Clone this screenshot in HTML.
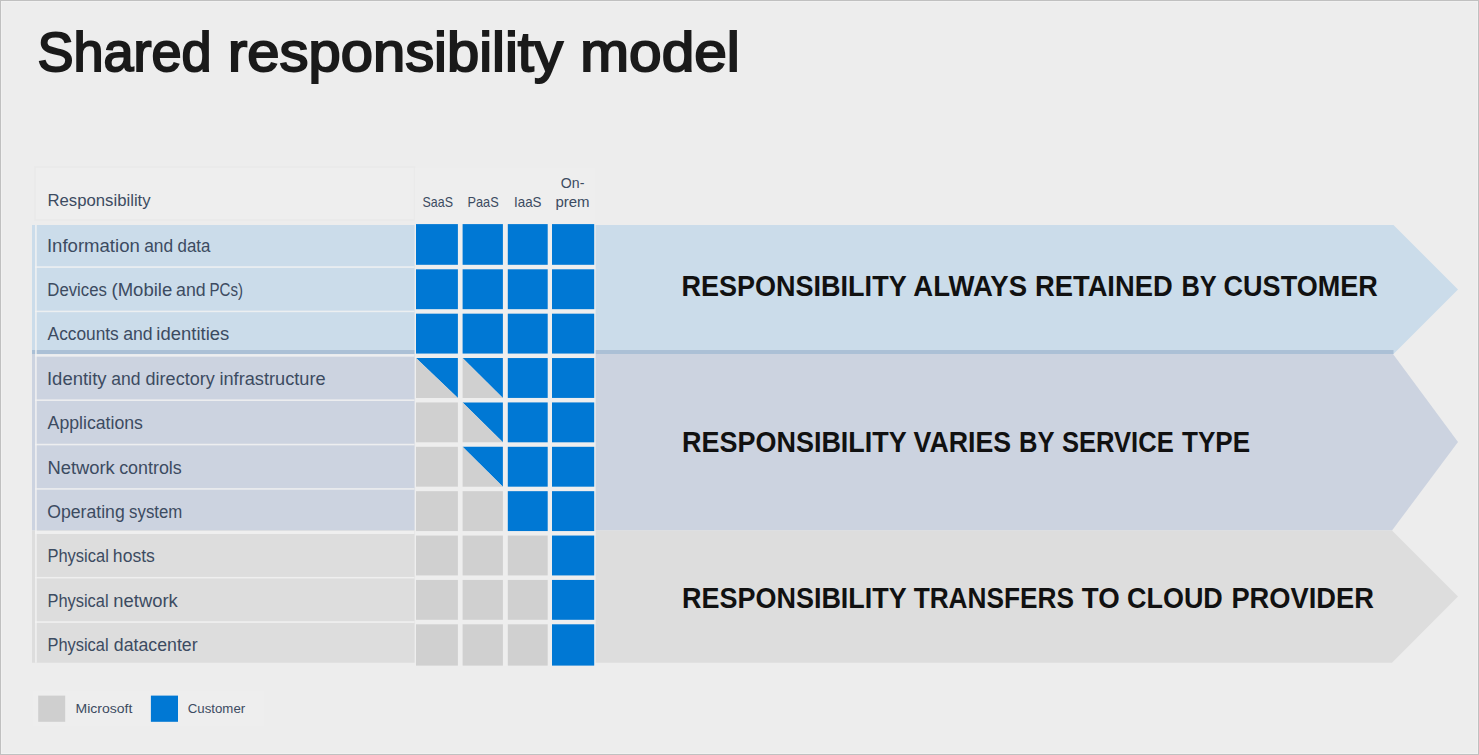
<!DOCTYPE html>
<html><head><meta charset="utf-8"><title>Shared responsibility model</title>
<style>html,body{margin:0;padding:0;background:#ededed;}svg{display:block;}text{font-family:"Liberation Sans",sans-serif;}</style>
</head><body>
<svg width="1479" height="755" viewBox="0 0 1479 755">
<rect x="0" y="0" width="1479" height="755" fill="#ededed"/>
<rect x="1.5" y="1.5" width="1476" height="752" fill="none" stroke="#f1f1f1" stroke-width="1"/>
<rect x="0.5" y="0.5" width="1478" height="754" fill="none" stroke="#c0c0c0" stroke-width="1"/>
<rect x="35" y="167" width="379.5" height="53" fill="#eeeeee" stroke="#e9e9e9" stroke-width="1.5"/>
<rect x="414.8" y="167.8" width="180" height="498" fill="#eeeeee"/>
<polygon points="32,225 1393.5,225 1458,289.5 1393.5,354 32,354" fill="#cbdcea"/>
<polygon points="32,354 1393,354 1458,442 1392,530.5 32,530.5" fill="#ccd3e0"/>
<polygon points="32,530.5 1392,530.5 1458,596.5 1392,662.7 32,662.7" fill="#dddddd"/>
<rect x="32" y="350" width="1361.5" height="4" fill="#abc0d6"/>
<rect x="35" y="225" width="1.8" height="437.7" fill="#f2f2f2" opacity="0.8"/>
<rect x="35" y="266.25" width="379.5" height="1.6" fill="#f2f2f2" opacity="0.85"/>
<rect x="35" y="310.62" width="379.5" height="1.6" fill="#f2f2f2" opacity="0.85"/>
<rect x="35" y="354.1" width="379.5" height="2.6" fill="#f2f2f2" opacity="0.85"/>
<rect x="35" y="399.38" width="379.5" height="1.6" fill="#f2f2f2" opacity="0.85"/>
<rect x="35" y="443.75" width="379.5" height="1.6" fill="#f2f2f2" opacity="0.85"/>
<rect x="35" y="488.12" width="379.5" height="1.6" fill="#f2f2f2" opacity="0.85"/>
<rect x="35" y="531" width="379.5" height="3" fill="#f2f2f2" opacity="0.85"/>
<rect x="35" y="576.88" width="379.5" height="1.6" fill="#f2f2f2" opacity="0.85"/>
<rect x="35" y="621.25" width="379.5" height="1.6" fill="#f2f2f2" opacity="0.85"/>
<rect x="414.6" y="224" width="181" height="442" fill="#eeeeee"/>
<rect x="416.0" y="224.10" width="41.90" height="40.70" fill="#0078d4"/>
<rect x="462.6" y="224.10" width="40.30" height="40.70" fill="#0078d4"/>
<rect x="507.8" y="224.10" width="39.90" height="40.70" fill="#0078d4"/>
<rect x="552.0" y="224.10" width="42.20" height="40.70" fill="#0078d4"/>
<rect x="416.0" y="269.30" width="41.90" height="39.88" fill="#0078d4"/>
<rect x="462.6" y="269.30" width="40.30" height="39.88" fill="#0078d4"/>
<rect x="507.8" y="269.30" width="39.90" height="39.88" fill="#0078d4"/>
<rect x="552.0" y="269.30" width="42.20" height="39.88" fill="#0078d4"/>
<rect x="416.0" y="313.68" width="41.90" height="39.88" fill="#0078d4"/>
<rect x="462.6" y="313.68" width="40.30" height="39.88" fill="#0078d4"/>
<rect x="507.8" y="313.68" width="39.90" height="39.88" fill="#0078d4"/>
<rect x="552.0" y="313.68" width="42.20" height="39.88" fill="#0078d4"/>
<polygon points="416.0,358.05 457.9,358.05 457.9,397.93" fill="#0078d4"/>
<polygon points="416.0,358.05 457.9,397.93 416.0,397.93" fill="#d0d0d0"/>
<polygon points="462.6,358.05 502.9,358.05 502.9,397.93" fill="#0078d4"/>
<polygon points="462.6,358.05 502.9,397.93 462.6,397.93" fill="#d0d0d0"/>
<rect x="507.8" y="358.05" width="39.90" height="39.88" fill="#0078d4"/>
<rect x="552.0" y="358.05" width="42.20" height="39.88" fill="#0078d4"/>
<rect x="416.0" y="402.43" width="41.90" height="39.88" fill="#d0d0d0"/>
<polygon points="462.6,402.43 502.9,402.43 502.9,442.30" fill="#0078d4"/>
<polygon points="462.6,402.43 502.9,442.30 462.6,442.30" fill="#d0d0d0"/>
<rect x="507.8" y="402.43" width="39.90" height="39.88" fill="#0078d4"/>
<rect x="552.0" y="402.43" width="42.20" height="39.88" fill="#0078d4"/>
<rect x="416.0" y="446.80" width="41.90" height="39.88" fill="#d0d0d0"/>
<polygon points="462.6,446.80 502.9,446.80 502.9,486.68" fill="#0078d4"/>
<polygon points="462.6,446.80 502.9,486.68 462.6,486.68" fill="#d0d0d0"/>
<rect x="507.8" y="446.80" width="39.90" height="39.88" fill="#0078d4"/>
<rect x="552.0" y="446.80" width="42.20" height="39.88" fill="#0078d4"/>
<rect x="416.0" y="491.18" width="41.90" height="39.87" fill="#d0d0d0"/>
<rect x="462.6" y="491.18" width="40.30" height="39.87" fill="#d0d0d0"/>
<rect x="507.8" y="491.18" width="39.90" height="39.87" fill="#0078d4"/>
<rect x="552.0" y="491.18" width="42.20" height="39.87" fill="#0078d4"/>
<rect x="416.0" y="535.55" width="41.90" height="39.88" fill="#d0d0d0"/>
<rect x="462.6" y="535.55" width="40.30" height="39.88" fill="#d0d0d0"/>
<rect x="507.8" y="535.55" width="39.90" height="39.88" fill="#d0d0d0"/>
<rect x="552.0" y="535.55" width="42.20" height="39.88" fill="#0078d4"/>
<rect x="416.0" y="579.92" width="41.90" height="39.88" fill="#d0d0d0"/>
<rect x="462.6" y="579.92" width="40.30" height="39.88" fill="#d0d0d0"/>
<rect x="507.8" y="579.92" width="39.90" height="39.88" fill="#d0d0d0"/>
<rect x="552.0" y="579.92" width="42.20" height="39.88" fill="#0078d4"/>
<rect x="416.0" y="624.30" width="41.90" height="41.30" fill="#d0d0d0"/>
<rect x="462.6" y="624.30" width="40.30" height="41.30" fill="#d0d0d0"/>
<rect x="507.8" y="624.30" width="39.90" height="41.30" fill="#d0d0d0"/>
<rect x="552.0" y="624.30" width="42.20" height="41.30" fill="#0078d4"/>
<rect x="33" y="691" width="231" height="35.5" fill="#eeeeee"/>
<rect x="38.2" y="695.6" width="27" height="26.2" fill="#cfcfcf"/>
<rect x="150.9" y="695.6" width="27.1" height="26.2" fill="#0078d4"/>
<text x="37.43" y="70.60" font-size="55.5" font-weight="400" fill="#1a1a1a" textLength="174.20" lengthAdjust="spacingAndGlyphs" stroke="#1a1a1a" stroke-width="2.0">Shared</text>
<text x="227.95" y="70.60" font-size="55.5" font-weight="400" fill="#1a1a1a" textLength="335.01" lengthAdjust="spacingAndGlyphs" stroke="#1a1a1a" stroke-width="2.0">responsibility</text>
<text x="580.27" y="70.60" font-size="55.5" font-weight="400" fill="#1a1a1a" textLength="159.53" lengthAdjust="spacingAndGlyphs" stroke="#1a1a1a" stroke-width="2.0">model</text>
<text x="681.51" y="296.00" font-size="29" font-weight="700" fill="#111111" textLength="225.15" lengthAdjust="spacingAndGlyphs">RESPONSIBILITY</text>
<text x="913.32" y="296.00" font-size="29" font-weight="700" fill="#111111" textLength="113.81" lengthAdjust="spacingAndGlyphs">ALWAYS</text>
<text x="1035.03" y="296.00" font-size="29" font-weight="700" fill="#111111" textLength="137.61" lengthAdjust="spacingAndGlyphs">RETAINED</text>
<text x="1181.40" y="296.00" font-size="29" font-weight="700" fill="#111111" textLength="35.28" lengthAdjust="spacingAndGlyphs">BY</text>
<text x="1223.61" y="296.00" font-size="29" font-weight="700" fill="#111111" textLength="154.08" lengthAdjust="spacingAndGlyphs">CUSTOMER</text>
<text x="682.12" y="452.00" font-size="29" font-weight="700" fill="#111111" textLength="224.62" lengthAdjust="spacingAndGlyphs">RESPONSIBILITY</text>
<text x="913.60" y="452.00" font-size="29" font-weight="700" fill="#111111" textLength="97.48" lengthAdjust="spacingAndGlyphs">VARIES</text>
<text x="1019.00" y="452.00" font-size="29" font-weight="700" fill="#111111" textLength="35.53" lengthAdjust="spacingAndGlyphs">BY</text>
<text x="1062.01" y="452.00" font-size="29" font-weight="700" fill="#111111" textLength="111.67" lengthAdjust="spacingAndGlyphs">SERVICE</text>
<text x="1182.02" y="452.00" font-size="29" font-weight="700" fill="#111111" textLength="68.13" lengthAdjust="spacingAndGlyphs">TYPE</text>
<text x="682.12" y="608.00" font-size="29" font-weight="700" fill="#111111" textLength="224.62" lengthAdjust="spacingAndGlyphs">RESPONSIBILITY</text>
<text x="913.63" y="608.00" font-size="29" font-weight="700" fill="#111111" textLength="160.46" lengthAdjust="spacingAndGlyphs">TRANSFERS</text>
<text x="1081.77" y="608.00" font-size="29" font-weight="700" fill="#111111" textLength="37.83" lengthAdjust="spacingAndGlyphs">TO</text>
<text x="1127.04" y="608.00" font-size="29" font-weight="700" fill="#111111" textLength="95.80" lengthAdjust="spacingAndGlyphs">CLOUD</text>
<text x="1231.42" y="608.00" font-size="29" font-weight="700" fill="#111111" textLength="142.44" lengthAdjust="spacingAndGlyphs">PROVIDER</text>
<text x="47.52" y="206.10" font-size="17.3" font-weight="400" fill="#3c4b61" textLength="103.09" lengthAdjust="spacingAndGlyphs">Responsibility</text>
<text x="422.55" y="207.00" font-size="14.3" font-weight="400" fill="#3c4b61" textLength="30.39" lengthAdjust="spacingAndGlyphs">SaaS</text>
<text x="467.45" y="207.00" font-size="14.3" font-weight="400" fill="#3c4b61" textLength="31.21" lengthAdjust="spacingAndGlyphs">PaaS</text>
<text x="514.02" y="207.00" font-size="14.3" font-weight="400" fill="#3c4b61" textLength="27.52" lengthAdjust="spacingAndGlyphs">IaaS</text>
<text x="555.45" y="207.00" font-size="14.3" font-weight="400" fill="#3c4b61" textLength="34.16" lengthAdjust="spacingAndGlyphs">prem</text>
<text x="560.87" y="188.10" font-size="14.3" font-weight="400" fill="#3c4b61" textLength="23.52" lengthAdjust="spacingAndGlyphs">On-</text>
<text x="46.94" y="251.70" font-size="17.5" font-weight="400" fill="#3c4b61" textLength="92.85" lengthAdjust="spacingAndGlyphs">Information</text>
<text x="144.18" y="251.70" font-size="17.5" font-weight="400" fill="#3c4b61" textLength="28.94" lengthAdjust="spacingAndGlyphs">and</text>
<text x="177.60" y="251.70" font-size="17.5" font-weight="400" fill="#3c4b61" textLength="32.83" lengthAdjust="spacingAndGlyphs">data</text>
<text x="47.35" y="296.08" font-size="17.5" font-weight="400" fill="#3c4b61" textLength="59.53" lengthAdjust="spacingAndGlyphs">Devices</text>
<text x="111.46" y="296.08" font-size="17.5" font-weight="400" fill="#3c4b61" textLength="60.80" lengthAdjust="spacingAndGlyphs">(Mobile</text>
<text x="176.14" y="296.08" font-size="17.5" font-weight="400" fill="#3c4b61" textLength="29.60" lengthAdjust="spacingAndGlyphs">and</text>
<text x="209.54" y="296.08" font-size="17.5" font-weight="400" fill="#3c4b61" textLength="33.50" lengthAdjust="spacingAndGlyphs">PCs)</text>
<text x="47.61" y="340.46" font-size="17.5" font-weight="400" fill="#3c4b61" textLength="71.11" lengthAdjust="spacingAndGlyphs">Accounts</text>
<text x="123.17" y="340.46" font-size="17.5" font-weight="400" fill="#3c4b61" textLength="29.46" lengthAdjust="spacingAndGlyphs">and</text>
<text x="156.38" y="340.46" font-size="17.5" font-weight="400" fill="#3c4b61" textLength="72.88" lengthAdjust="spacingAndGlyphs">identities</text>
<text x="46.97" y="384.84" font-size="17.5" font-weight="400" fill="#3c4b61" textLength="59.63" lengthAdjust="spacingAndGlyphs">Identity</text>
<text x="111.16" y="384.84" font-size="17.5" font-weight="400" fill="#3c4b61" textLength="29.23" lengthAdjust="spacingAndGlyphs">and</text>
<text x="145.62" y="384.84" font-size="17.5" font-weight="400" fill="#3c4b61" textLength="69.05" lengthAdjust="spacingAndGlyphs">directory</text>
<text x="219.47" y="384.84" font-size="17.5" font-weight="400" fill="#3c4b61" textLength="106.13" lengthAdjust="spacingAndGlyphs">infrastructure</text>
<text x="47.61" y="429.22" font-size="17.5" font-weight="400" fill="#3c4b61" textLength="95.29" lengthAdjust="spacingAndGlyphs">Applications</text>
<text x="47.46" y="473.60" font-size="17.5" font-weight="400" fill="#3c4b61" textLength="67.36" lengthAdjust="spacingAndGlyphs">Network</text>
<text x="119.16" y="473.60" font-size="17.5" font-weight="400" fill="#3c4b61" textLength="62.62" lengthAdjust="spacingAndGlyphs">controls</text>
<text x="47.33" y="517.98" font-size="17.5" font-weight="400" fill="#3c4b61" textLength="77.36" lengthAdjust="spacingAndGlyphs">Operating</text>
<text x="129.12" y="517.98" font-size="17.5" font-weight="400" fill="#3c4b61" textLength="53.23" lengthAdjust="spacingAndGlyphs">system</text>
<text x="47.42" y="562.36" font-size="17.5" font-weight="400" fill="#3c4b61" textLength="61.41" lengthAdjust="spacingAndGlyphs">Physical</text>
<text x="112.88" y="562.36" font-size="17.5" font-weight="400" fill="#3c4b61" textLength="42.01" lengthAdjust="spacingAndGlyphs">hosts</text>
<text x="47.45" y="606.74" font-size="17.5" font-weight="400" fill="#3c4b61" textLength="61.18" lengthAdjust="spacingAndGlyphs">Physical</text>
<text x="113.39" y="606.74" font-size="17.5" font-weight="400" fill="#3c4b61" textLength="64.41" lengthAdjust="spacingAndGlyphs">network</text>
<text x="47.45" y="651.12" font-size="17.5" font-weight="400" fill="#3c4b61" textLength="61.18" lengthAdjust="spacingAndGlyphs">Physical</text>
<text x="113.83" y="651.12" font-size="17.5" font-weight="400" fill="#3c4b61" textLength="83.73" lengthAdjust="spacingAndGlyphs">datacenter</text>
<text x="75.48" y="713.30" font-size="13.4" font-weight="400" fill="#3c4b61" textLength="56.87" lengthAdjust="spacingAndGlyphs">Microsoft</text>
<text x="187.80" y="713.30" font-size="13.4" font-weight="400" fill="#3c4b61" textLength="57.36" lengthAdjust="spacingAndGlyphs">Customer</text>
</svg>
</body></html>
